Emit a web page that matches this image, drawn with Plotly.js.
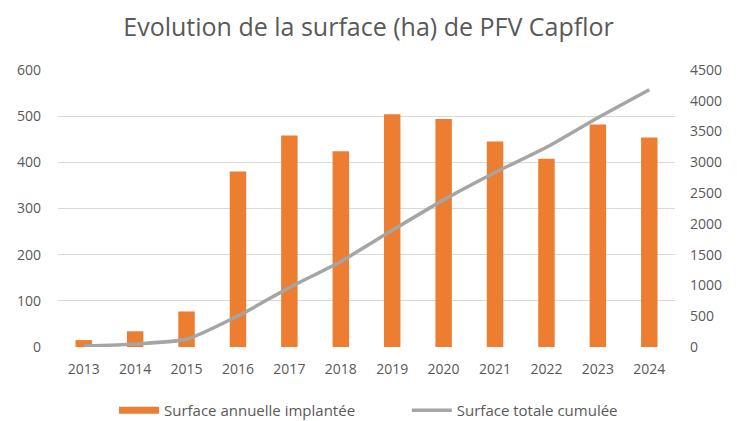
<!DOCTYPE html>
<html><head><meta charset="utf-8">
<script src="https://cdn.plot.ly/plotly-3.0.1.min.js"></script>
<style>html,body{margin:0;padding:0;background:#fff}#c{width:737px;height:421px}</style>
</head><body><div id="c"></div>
<script>
const years = ['2013','2014','2015','2016','2017','2018','2019','2020','2021','2022','2023','2024'];
const annuelle = [15, 34, 77, 380, 458, 424, 504, 494, 445, 408, 482, 454];
const cumulee = [15, 50, 125, 505, 965, 1390, 1895, 2390, 2835, 3245, 3725, 4180];
const leftTicks = [0,100,200,300,400,500,600];
const rightTicks = [0,500,1000,1500,2000,2500,3000,3500,4000,4500];

const font = "'Open Sans', sans-serif";
const traces = [
  {type:'bar', x:years, y:annuelle, name:'Surface annuelle implantée',
   marker:{color:'#ed7d31'}, yaxis:'y', showlegend:false},
  {type:'scatter', mode:'lines', x:[null], y:[null], name:'Surface annuelle implantée\u00a0\u00a0\u00a0\u00a0\u00a0\u00a0\u00a0\u00a0\u00a0\u00a0\u00a0\u00a0',
   line:{color:'#ed7d31', width:7}, yaxis:'y', hoverinfo:'skip'},
  {type:'scatter', mode:'lines', x:years, y:cumulee, name:'Surface totale cumulée',
   line:{color:'#a5a5a5', width:3.5, shape:'spline', smoothing:0.6}, yaxis:'y2'}
];
const layout = {
  width:737, height:421,
  margin:{l:58, r:62, t:70, b:74},
  paper_bgcolor:'#fff', plot_bgcolor:'#fff',
  font:{family:font, color:'#595959', size:14},
  title:{text:'Evolution de la surface (ha) de PFV Capflor', x:0.5, xanchor:'center', y:0.935, yanchor:'middle',
         font:{family:font, size:25, color:'#595959'}},
  bargap:0.68,
  xaxis:{type:'category', showgrid:false, zeroline:false, showline:false, ticks:'', ticklabelstandoff:12,
         tickfont:{size:14, color:'#595959'}, automargin:false},
  yaxis:{range:[0,600], tickvals:leftTicks, showgrid:true, gridcolor:'#d9d9d9', gridwidth:1, automargin:false,
         zeroline:false, showline:false, ticks:'', ticklabelstandoff:16, tickfont:{size:14, color:'#595959'}},
  yaxis2:{range:[0,4500], tickvals:rightTicks, overlaying:'y', side:'right', showgrid:false, automargin:false,
          zeroline:false, showline:false, ticks:'', ticklabelstandoff:14, tickfont:{size:14, color:'#595959'}},
  legend:{orientation:'h', x:0.5, xanchor:'center', xref:'container', yref:'container', y:0.025, yanchor:'middle',
          font:{size:15, color:'#595959'}, itemwidth:40, tracegroupgap:0},
  showlegend:true
};
Plotly.newPlot('c', traces, layout, {displayModeBar:false, staticPlot:true});
</script></body></html>
